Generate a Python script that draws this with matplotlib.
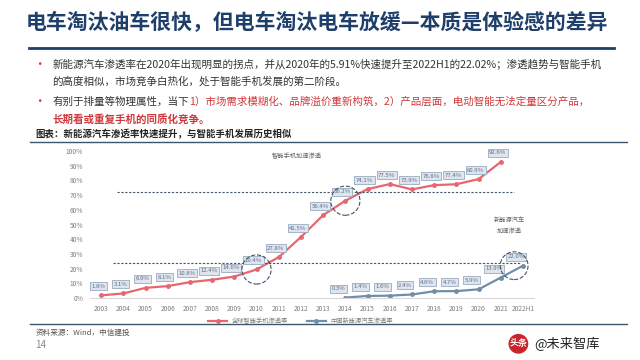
import matplotlib.pyplot as plt

plt.rcParams['font.family'] = ['Noto Sans CJK SC', 'DejaVu Sans']

years = ['2003', '2004', '2005', '2006', '2007', '2008', '2009', '2010', '2011', '2012',
         '2013', '2014', '2015', '2016', '2017', '2018', '2019', '2020', '2021', '2022H1']
phone_rate = [1.8, 3.1, 6.9, 8.1, 10.8, 12.4, 14.6, 19.4, 27.8, 41.5,
              56.4, 66.2, 74.1, 77.5, 73.9, 76.8, 77.4, 80.9, 92.6]
nev_years = years[11:]
nev_rate = [0.3, 1.4, 1.6, 2.4, 4.6, 4.7, 5.9, 13.9, 22.0]

phone_color = '#e8676f'
nev_color = '#6f8eaa'
navy = '#1f3f6b'
red = '#d0393b'

fig = plt.figure(figsize=(6.4, 3.6), dpi=100)
fig.patch.set_facecolor('white')

# slide header
fig.text(0.04, 0.938, '电车淘汰油车很快，但电车淘汰电车放缓—本质是体验感的差异',
         fontsize=15, fontweight='bold', color=navy, va='center')
fig.add_artist(plt.Line2D([0.045, 0.96], [0.867, 0.867], color=navy, lw=2))

body = dict(fontsize=7.6, color='#333333', va='center')
for yb in (0.822, 0.717):
    fig.text(0.062, yb, '•', color=red, fontsize=9, va='center', ha='center')
fig.text(0.082, 0.822, '新能源汽车渗透率在2020年出现明显的拐点，并从2020年的5.91%快速提升至2022H1的22.02%；渗透趋势与智能手机', **body)
fig.text(0.082, 0.775, '的高度相似，市场竞争白热化，处于智能手机发展的第二阶段。', **body)
t1 = fig.text(0.082, 0.717, '有别于排量等物理属性，当下', **body)
# red part continues right after the dark part
fig.canvas.draw()
x2 = t1.get_window_extent().x1 / fig.bbox.width
fig.text(x2, 0.717, '1）市场需求模糊化、品牌溢价重新构筑，2）产品层面，电动智能无法定量区分产品，',
         fontsize=7.6, color=red, va='center')
fig.text(0.082, 0.669, '长期看或重复手机的同质化竞争。', fontsize=7.6, color=red,
         fontweight='bold', va='center')

# chart caption
fig.text(0.055, 0.628, '图表：新能源汽车渗透率快速提升，与智能手机发展历史相似',
         fontsize=6.8, fontweight='bold', color='#222222', va='center')
fig.add_artist(plt.Line2D([0.047, 0.98], [0.606, 0.606], color='#3d5670', lw=1))

# chart
ax = fig.add_axes([0.1406, 0.1722, 0.694, 0.4083])
x_all = list(range(len(years)))
x_nev = [years.index(y) for y in nev_years]

ax.plot(x_all[:len(phone_rate)], phone_rate, color=phone_color, lw=1.6,
        marker='o', ms=2.5, label='全球智能手机渗透率')
ax.plot(x_nev, nev_rate, color=nev_color, lw=1.6, marker='o', ms=2.5,
        label='中国新能源汽车渗透率')

box = dict(boxstyle='square,pad=0.25', fc='#dfe5ee', ec='#9aaac0', lw=0.6)
for xi, v in zip(x_all, phone_rate):
    ax.annotate(f'{v:.1f}%', (xi, v), xytext=(-3, 9), textcoords='offset pixels',
                ha='center', va='center', fontsize=4.3, color='#5f6f85', bbox=box)
for xi, v in zip(x_nev, nev_rate):
    ax.annotate(f'{v:.1f}%', (xi, v), xytext=(-7, 9), textcoords='offset pixels',
                ha='center', va='center', fontsize=4.3, color='#5f6f85', bbox=box)

# reference lines and highlight circles
upper_level, lower_level = 72, 24
ax.plot([0.72, 18.6], [upper_level, upper_level], ls=(0, (2, 1.5)), color='#445566', lw=0.8)
ax.plot([0.55, 18.85], [lower_level, lower_level], ls=(0, (2, 1.5)), color='#445566', lw=0.8)
circle_idx = [7, 11]
ax.scatter(circle_idx, [phone_rate[i] for i in circle_idx], s=440, facecolors='none',
           edgecolors='#445566', linestyles='--', linewidths=0.8, zorder=5)
ax.scatter([x_nev[-1] - 0.4], [nev_rate[-1]], s=400, facecolors='none',
           edgecolors='#445566', linestyles='--', linewidths=0.8, zorder=5)

ax.text(8.83, 96.6, '智能手机加速渗透', fontsize=4.5, color='#666666', ha='center', va='center')
ax.text(18.4, 49, '新能源汽车\n加速渗透', fontsize=4.5, color='#666666', ha='center',
        va='center', linespacing=1.6)

ax.set_xlim(-0.5, len(years) - 0.5)
ax.set_ylim(0, 100)
ax.set_xticks(x_all)
ax.set_xticklabels(years)
ax.set_yticks(range(0, 101, 10))
ax.set_yticklabels([f'{v}%' for v in range(0, 101, 10)])
ax.tick_params(length=0, labelsize=4.8, labelcolor='#7f7f7f', pad=5)
for s in ['top', 'right', 'left']:
    ax.spines[s].set_visible(False)
ax.spines['bottom'].set_color('#d9d9d9')

fig.legend(loc='center', bbox_to_anchor=(0.47, 0.108), ncol=2, frameon=False,
           fontsize=4.5, labelcolor='#7f7f7f', handlelength=3, columnspacing=3)

# footer
fig.add_artist(plt.Line2D([0.047, 0.98], [0.1, 0.1], color='#3d5670', lw=1))
fig.text(0.055, 0.075, '资料来源：Wind，中信建投', fontsize=5.5, style='italic',
         color='#555555', va='center')
fig.text(0.055, 0.043, '14', fontsize=7, color='#888888', va='center')
fig.text(0.81, 0.045, '头条', fontsize=6.5, color='white', ha='center', va='center',
         fontweight='bold', bbox=dict(boxstyle='circle,pad=0.1', fc='#c8262c', ec='none'))
fig.text(0.835, 0.045, '@未来智库', fontsize=9.5, color='#222222', va='center')

fig.savefig('out.png', dpi=100)
